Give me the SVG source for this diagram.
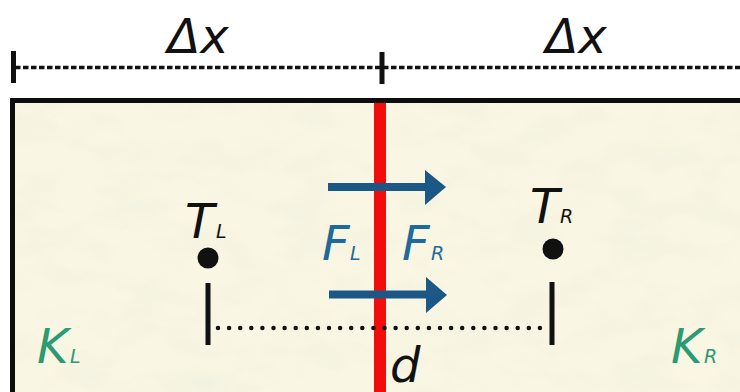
<svg xmlns="http://www.w3.org/2000/svg" width="740" height="392" viewBox="0 0 740 392">
  <defs>
    <filter id="tex" x="0" y="0" width="100%" height="100%" filterUnits="objectBoundingBox">
      <feTurbulence type="fractalNoise" baseFrequency="0.018 0.035" numOctaves="4" seed="7" result="n"/>
      <feColorMatrix in="n" type="matrix" values="0 0 0 0 0.80  0 0 0 0 0.78  0 0 0 0 0.70  1.4 0 0 0 -0.6"/>
    </filter>
    <style>
      .lbl { font-family: "DejaVu Sans", Verdana, sans-serif; font-style: italic; }
      .big { font-size: 48px; }
      .sub { font-size: 19px; }
      .blk { fill: #111; }
      .blu { fill: #1f6a9b; }
      .grn { fill: #2c9a72; }
      .bar { stroke: #111; stroke-width: 5; }
      .arrow { fill: #1b5887; }
    </style>
  </defs>

  <rect x="0" y="0" width="740" height="392" fill="#ffffff"/>

  <!-- medium box -->
  <g id="medium">
    <rect x="12" y="100" width="740" height="300" fill="#f9f7e3"/>
    <rect x="12" y="100" width="740" height="300" filter="url(#tex)" opacity="0.45"/>
    <line x1="10" y1="100.5" x2="740" y2="100.5" stroke="#0d0d0d" stroke-width="5"/>
    <line x1="12.5" y1="98" x2="12.5" y2="392" stroke="#0d0d0d" stroke-width="5"/>
  </g>

  <!-- interface -->
  <g id="interface">
    <rect x="374" y="103" width="12" height="289" fill="#f20d0d"/>
  </g>

  <!-- dimension Δx -->
  <g id="dimension">
    <line x1="15" y1="67.5" x2="740" y2="67.5" stroke="#111" stroke-width="3.5" stroke-dasharray="5.5 2.5"/>
    <line class="bar" x1="13.5" y1="51" x2="13.5" y2="83"/>
    <line class="bar" x1="382" y1="52" x2="382" y2="84"/>
    <text class="lbl big blk" x="198" y="53" text-anchor="middle">Δx</text>
    <text class="lbl big blk" x="576" y="53" text-anchor="middle">Δx</text>
  </g>

  <!-- connectors -->
  <g id="connectors">
    <g id="flux-top">
      <line x1="328" y1="187" x2="428" y2="187" stroke="#1b5887" stroke-width="8"/>
      <polygon class="arrow" points="425,170 446,187 425,205"/>
    </g>
    <g id="flux-bottom">
      <line x1="329" y1="294.5" x2="429" y2="294.5" stroke="#1b5887" stroke-width="8"/>
      <polygon class="arrow" points="426,277 447,295 426,313"/>
    </g>
    <g id="distance">
      <line x1="218" y1="328" x2="544" y2="328" stroke="#111" stroke-width="4.5" stroke-linecap="round" stroke-dasharray="0 11.1"/>
      <line class="bar" x1="208" y1="283" x2="208" y2="345"/>
      <line class="bar" x1="552" y1="282" x2="552" y2="345"/>
    </g>
  </g>

  <!-- left node -->
  <g id="node-TL">
    <circle cx="208" cy="258" r="10.5" fill="#111"/>
    <text class="lbl big blk" x="185" y="238">T</text>
    <text class="lbl sub blk" x="216" y="238">L</text>
  </g>

  <!-- right node -->
  <g id="node-TR">
    <circle cx="553" cy="249" r="10.5" fill="#111"/>
    <text class="lbl big blk" x="530" y="223">T</text>
    <text class="lbl sub blk" x="560" y="223">R</text>
  </g>

  <g id="label-FL">
    <text class="lbl big blu" x="322" y="260">F</text>
    <text class="lbl sub blu" x="350" y="260">L</text>
  </g>
  <g id="label-FR">
    <text class="lbl big blu" x="402" y="260">F</text>
    <text class="lbl sub blu" x="431" y="260">R</text>
  </g>

  <g id="label-KL">
    <text class="lbl big grn" x="37" y="363">K</text>
    <text class="lbl sub grn" x="70" y="363">L</text>
  </g>
  <g id="label-KR">
    <text class="lbl big grn" x="671" y="363">K</text>
    <text class="lbl sub grn" x="704" y="363">R</text>
  </g>

  <g id="label-d">
    <text class="lbl big blk" x="390" y="382">d</text>
  </g>
</svg>
